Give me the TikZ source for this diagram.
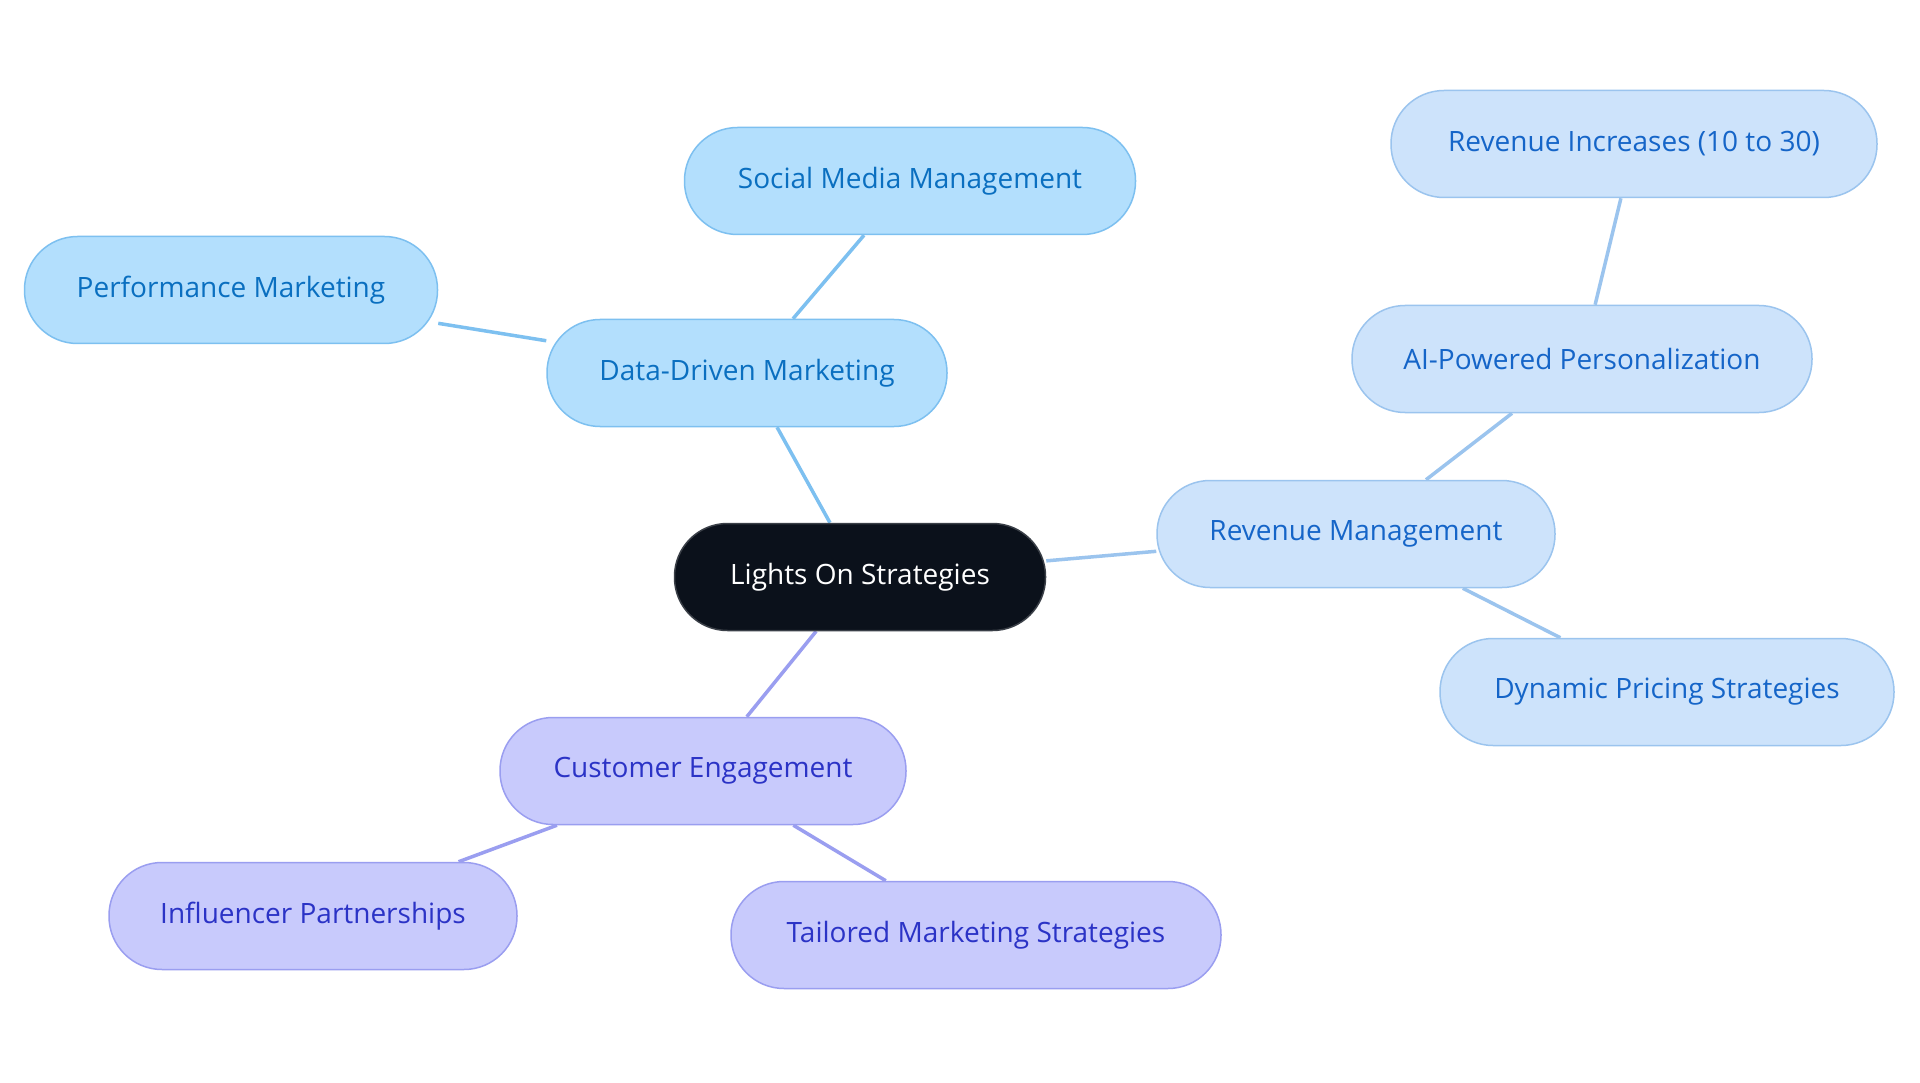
\documentclass[tikz,border=0pt]{standalone}
\usepackage{fontspec}
\setmainfont{Open Sans}
\usetikzlibrary{backgrounds}
\definecolor{cfill}{HTML}{0B111B}
\definecolor{cline}{HTML}{3A3F47}
\definecolor{bfill}{HTML}{B3DFFD}
\definecolor{bline}{HTML}{7DC0F0}
\definecolor{btext}{HTML}{0A6FC0}
\definecolor{rfill}{HTML}{CDE3FB}
\definecolor{rline}{HTML}{9BC4EE}
\definecolor{rtext}{HTML}{1565C8}
\definecolor{pfill}{HTML}{C8CAFC}
\definecolor{pline}{HTML}{9A9EF0}
\definecolor{ptext}{HTML}{2B33C6}
\tikzset{
  pill/.style={rectangle, rounded corners=53pt, minimum height=107pt, line width=1.5pt, font=\fontsize{28}{32}\selectfont, inner sep=0pt},
  central/.style={pill, fill=cfill, draw=cline, text=white},
  bnode/.style={pill, fill=bfill, draw=bline, text=btext},
  rnode/.style={pill, fill=rfill, draw=rline, text=rtext},
  pnode/.style={pill, fill=pfill, draw=pline, text=ptext},
  bedge/.style={draw=bline, line width=3.5pt},
  redge/.style={draw=rline, line width=3.5pt},
  pedge/.style={draw=pline, line width=3.5pt},
}
\begin{document}
\begin{tikzpicture}[x=1pt,y=-1pt]
\useasboundingbox (0,0) rectangle (1920,1083);
\node[central, minimum width=371pt] (c) at (860,577) {Lights On Strategies};
\node[bnode, minimum width=400pt] (ddm) at (747,373) {Data-Driven Marketing};
\node[bnode, minimum width=451pt] (smm) at (910,181) {Social Media Management};
\node[bnode, minimum width=413pt] (pm) at (231,290) {Performance Marketing};
\node[rnode, minimum width=398pt] (rm) at (1356,534) {Revenue Management};
\node[rnode, minimum width=460pt] (ai) at (1582,359) {AI-Powered Personalization};
\node[rnode, minimum width=486pt] (ri) at (1634,144) {Revenue Increases (10 to 30)};
\node[rnode, minimum width=454pt] (dp) at (1667,692) {Dynamic Pricing Strategies};
\node[pnode, minimum width=406pt] (ce) at (703,771) {Customer Engagement};
\node[pnode, minimum width=408pt] (ip) at (313,916) {Influencer Partnerships};
\node[pnode, minimum width=490pt] (tm) at (976,935) {Tailored Marketing Strategies};
\begin{pgfonlayer}{background}
\fill[white] (0,0) rectangle (1920,1083);
\draw[bedge] (c) -- (ddm);
\draw[bedge] (ddm) -- (smm);
\draw[bedge] (ddm) -- (pm);
\draw[redge] (c) -- (rm);
\draw[redge] (rm) -- (ai);
\draw[redge] (ai) -- (ri);
\draw[redge] (rm) -- (dp);
\draw[pedge] (c) -- (ce);
\draw[pedge] (ce) -- (ip);
\draw[pedge] (ce) -- (tm);
\end{pgfonlayer}
\end{tikzpicture}
\end{document}
